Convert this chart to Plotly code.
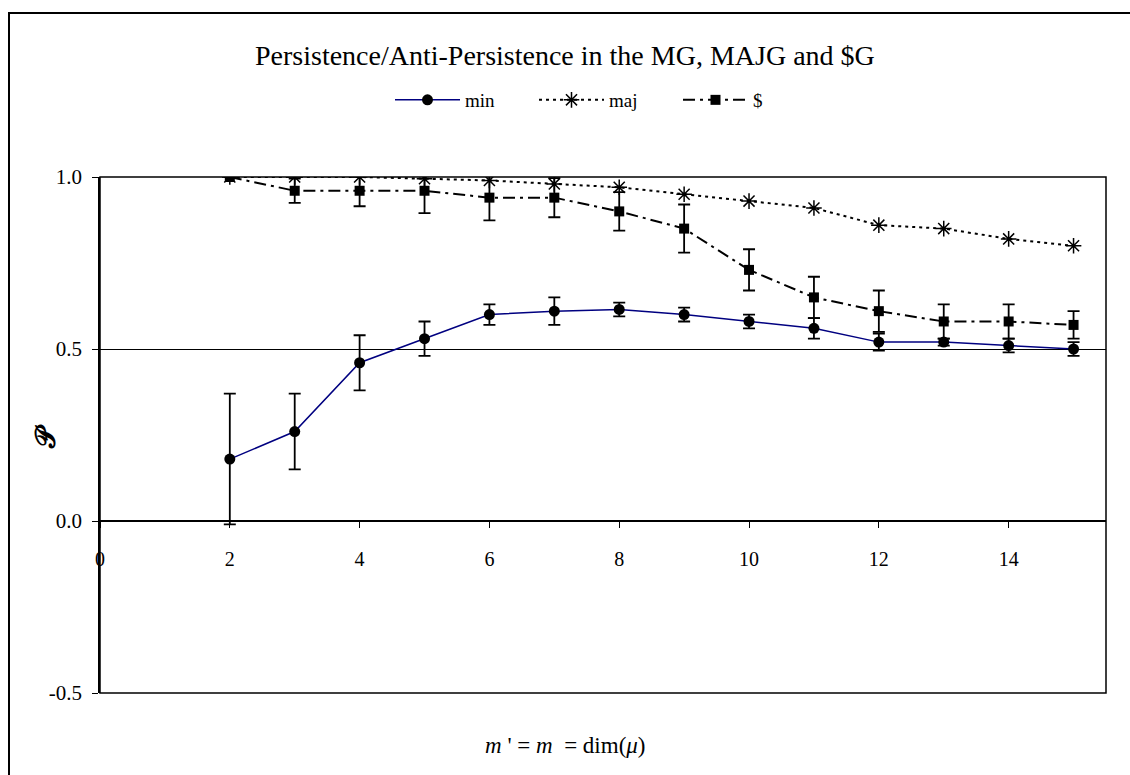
import plotly.graph_objects as go

# ---- data ----
m_vals = [2, 3, 4, 5, 6, 7, 8, 9, 10, 11, 12, 13, 14, 15]
min_y = [0.18, 0.26, 0.46, 0.53, 0.60, 0.61, 0.615, 0.60, 0.58, 0.56, 0.52, 0.52, 0.51, 0.50]
min_err = [0.19, 0.11, 0.08, 0.05, 0.03, 0.04, 0.02, 0.02, 0.02, 0.03, 0.025, 0.01, 0.02, 0.02]
maj_y = [1.0, 1.0, 1.0, 0.995, 0.99, 0.98, 0.97, 0.95, 0.93, 0.91, 0.86, 0.85, 0.82, 0.80]
dol_y = [1.0, 0.96, 0.96, 0.96, 0.94, 0.94, 0.90, 0.85, 0.73, 0.65, 0.61, 0.58, 0.58, 0.57]
dol_err = [0.0, 0.035, 0.045, 0.065, 0.066, 0.057, 0.056, 0.07, 0.06, 0.06, 0.06, 0.05, 0.05, 0.04]
x_ticks = [0, 2, 4, 6, 8, 10, 12, 14]
y_ticks = [-0.5, 0.0, 0.5, 1.0]
y_tick_text = ["-0.5", "0.0", "0.5", "1.0"]

W, H = 1130, 775
L, R, T, B = 100, 24, 177, 82
PW, PH = W - L - R, H - T - B

def px(x):
    return (x - L) / PW

def py(y):
    return (H - B - y) / PH

SERIF = "Liberation Serif"

fig = go.Figure()
fig.add_trace(go.Scatter(
    x=m_vals, y=min_y, name="min", mode="lines+markers",
    line=dict(color="#000080", width=1.5),
    marker=dict(symbol="circle", size=11, color="black"),
    error_y=dict(type="data", array=min_err, visible=True, color="black", thickness=1.8, width=6),
))
fig.add_trace(go.Scatter(
    x=m_vals, y=maj_y, name="maj", mode="lines+markers",
    line=dict(color="black", width=2, dash="3px,4px"),
    marker=dict(symbol="asterisk-open", size=13, color="black", line=dict(width=1.5, color="black")),
))
fig.add_trace(go.Scatter(
    x=m_vals, y=dol_y, name="$", mode="lines+markers",
    line=dict(color="black", width=2, dash="12px,5px,3px,5px"),
    marker=dict(symbol="square", size=10, color="black"),
    error_y=dict(type="data", array=dol_err, visible=True, color="black", thickness=1.8, width=6),
))

fig.update_layout(
    width=W, height=H,
    margin=dict(l=L, r=R, t=T, b=B),
    paper_bgcolor="white", plot_bgcolor="white",
    font=dict(family=SERIF, size=20, color="black"),
    showlegend=True,
    legend=dict(orientation="h", x=px(390), xanchor="left", y=py(100), yanchor="middle",
                font=dict(family=SERIF, size=19), entrywidth=64, itemwidth=65,
                bgcolor="rgba(0,0,0,0)"),
    xaxis=dict(range=[0, 15.5], tickvals=x_ticks, ticks="outside", ticklen=6, tickcolor="black",
               showline=True, linecolor="black", linewidth=1.5, showgrid=False, zeroline=False,
               anchor="free", position=1/3, ticklabelstandoff=14,
               tickfont=dict(family=SERIF, size=20)),
    yaxis=dict(range=[-0.5, 1.0], tickvals=y_ticks, ticktext=y_tick_text, ticks="outside", ticklen=6,
               tickcolor="black", showline=True, linecolor="black", linewidth=1.5,
               showgrid=True, gridcolor="black", gridwidth=1, zeroline=False,
               ticklabelstandoff=6, tickfont=dict(family=SERIF, size=21)),
    shapes=[
        dict(type="rect", xref="paper", yref="paper", x0=0, x1=1, y0=0, y1=1,
             line=dict(color="black", width=1.5), layer="above"),
        dict(type="rect", xref="paper", yref="paper", x0=px(9), x1=px(1140), y0=py(785), y1=py(13),
             line=dict(color="black", width=2)),
    ],
    annotations=[
        dict(text="Persistence/Anti-Persistence in the MG, MAJG and $G", xref="paper", yref="paper",
             x=px(565), y=py(55), xanchor="center", yanchor="middle", showarrow=False,
             font=dict(family=SERIF, size=28)),
        dict(text="<i>m</i> ' = <i>m</i>  = dim(<i>μ</i>)", xref="paper", yref="paper",
             x=px(565), y=py(745), xanchor="center", yanchor="middle", showarrow=False,
             font=dict(family=SERIF, size=23)),
        dict(text="<b>𝒫</b>", xref="paper", yref="paper", x=px(45), y=py(437),
             xanchor="center", yanchor="middle", showarrow=False, textangle=-90,
             font=dict(family=SERIF, size=28)),
    ],
)

fig.write_html("out.html")
